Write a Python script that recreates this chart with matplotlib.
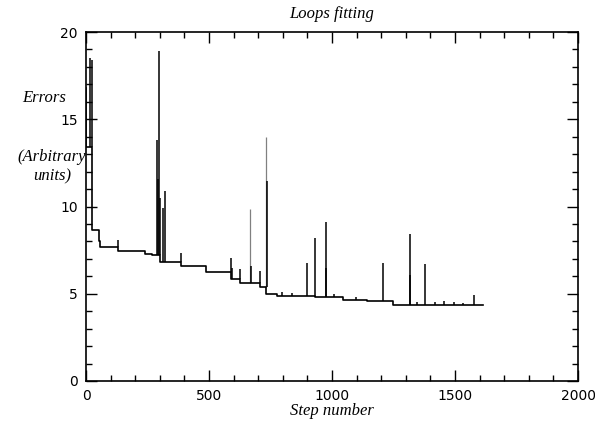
import matplotlib
matplotlib.use("Agg")
import matplotlib.pyplot as plt
from matplotlib.ticker import MultipleLocator

# staircase of the error level (step where a level starts, level value)
level_steps = [0, 2, 26, 53, 57, 131, 240, 267, 301, 385, 487, 589, 626,
               706, 732, 775, 931, 1043, 1141, 1249, 1615]
level_values = [16.8, 13.4, 8.65, 8.0, 7.7, 7.45, 7.28, 7.22, 6.84, 6.59,
                6.22, 5.85, 5.62, 5.40, 4.97, 4.89, 4.83, 4.64, 4.58, 4.35,
                4.35]

# short spikes: step, top value, baseline value
spike_steps = [18, 24, 131, 290, 293, 297, 300, 312, 322, 385, 589, 592,
               626, 670, 706, 734, 795, 836, 900, 930, 974, 976,
               1008, 1098, 1206, 1317, 1319, 1347, 1378, 1419, 1455, 1496,
               1534, 1577]
spike_tops = [18.5, 18.4, 8.08, 13.8, 11.6, 18.9, 10.5, 9.9, 10.9, 7.33,
              7.05, 6.5, 6.42, 6.6, 6.32, 11.48, 5.1, 5.05, 6.74,
              8.21, 9.09, 6.5, 5.0, 4.8, 6.74, 8.45, 6.05, 4.5, 6.7, 4.5,
              4.6, 4.5, 4.45, 4.9]
spike_bases = [13.4, 13.4, 7.7, 7.22, 7.22, 7.22, 7.22, 6.84, 6.84, 6.84,
               6.22, 5.85, 5.85, 5.62, 5.62, 5.40, 4.89, 4.89,
               4.89, 4.89, 4.83, 4.83, 4.83, 4.64, 4.58, 4.35, 4.35, 4.35,
               4.35, 4.35, 4.35, 4.35, 4.35, 4.35]

# single-sample spikes that show up faint in the original
faint_steps = [667, 731]
faint_tops = [9.86, 14.0]
faint_bases = [5.62, 5.40]

x_ticks = [0, 500, 1000, 1500, 2000]
y_ticks = [0, 5, 10, 15, 20]

fig = plt.figure(figsize=(5.95, 4.26), dpi=100)
ax = fig.add_axes([86 / 595, 1 - 381 / 426, 492 / 595, 349 / 426])

ax.vlines(faint_steps, faint_bases, faint_tops, color='0.5', lw=0.9)
ax.step(level_steps, level_values, where='post', color='black', lw=1.2)
ax.vlines(spike_steps, spike_bases, spike_tops, color='black', lw=1.1)

ax.set_xlim(0, 2000)
ax.set_ylim(0, 20)
ax.set_xticks(x_ticks)
ax.set_yticks(y_ticks)
ax.xaxis.set_minor_locator(MultipleLocator(100))
ax.yaxis.set_minor_locator(MultipleLocator(1))
ax.tick_params(which='both', direction='in', top=True, right=True,
               labelsize=10, pad=6, width=1)
ax.tick_params(which='major', length=8)
ax.tick_params(which='minor', length=4)
for s in ax.spines.values():
    s.set_linewidth(1.2)

serif = dict(family='Liberation Serif', style='italic', fontsize=12)
ax.set_title('Loops fitting', pad=10, **serif)
ax.set_xlabel('Step number', labelpad=0, **serif)
fig.text(44 / 595, 1 - 98 / 426, 'Errors', ha='center', va='center', **serif)
fig.text(52 / 595, 1 - 167 / 426, '(Arbitrary\nunits)', ha='center',
         va='center', linespacing=1.3, **serif)

fig.savefig('out.png', dpi=100)
